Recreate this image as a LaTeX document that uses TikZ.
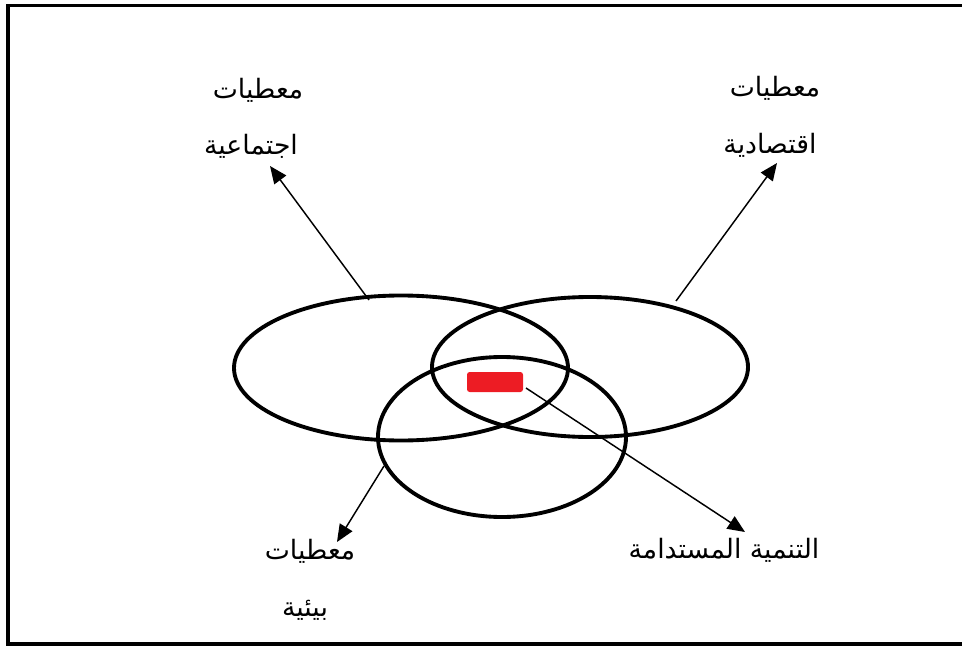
\documentclass[tikz,border=0pt]{standalone}
\usepackage{fontspec}
\newfontfamily\arabicfont[Script=Arabic]{DejaVu Sans}
\TeXXeTstate=1
\usetikzlibrary{shapes.geometric,arrows.meta}
\definecolor{redbox}{HTML}{ED1C24}
\tikzset{
  ring/.style={draw, ellipse, line width=2.9pt, inner sep=0pt},
  lbl/.style={font=\arabicfont\fontsize{20}{22}\selectfont, inner sep=0pt},
  pointer/.style={line width=1.1pt, -{Triangle[length=13pt,width=11pt]}},
}
\begin{document}
\begin{tikzpicture}[x=0.75pt,y=-0.75pt]
\useasboundingbox (0,0) rectangle (962,645);
\draw[line width=2.7pt] (966,5.5) -- (8,5.5) -- (8,644) -- (966,644);
% circles
\node[ring, minimum width=334*0.75pt, minimum height=145*0.75pt] (social) at (401,368) {};
\node[ring, minimum width=316*0.75pt, minimum height=140*0.75pt] (econ) at (590,367) {};
\node[ring, minimum width=248*0.75pt, minimum height=160*0.75pt] (env) at (502,437) {};
\node[fill=redbox, rounded corners=2pt, minimum width=56*0.75pt, minimum height=20*0.75pt, inner sep=0pt] (core) at (495,382) {};
% labels
\node[lbl] (soc1) at (258,90) {\beginR معطيات\endR};
\node[lbl] (soc2) at (251,146) {\beginR اجتماعية\endR};
\node[lbl] (eco1) at (775,88) {\beginR معطيات\endR};
\node[lbl] (eco2) at (770,145) {\beginR اقتصادية\endR};
\node[lbl] (env1) at (310,551) {\beginR معطيات\endR};
\node[lbl] (env2) at (305,610) {\beginR بيئية\endR};
\node[lbl] (sust) at (724,550) {\beginR التنمية المستدامة\endR};
% connector ends
\coordinate (socS) at (369,300);
\coordinate (socT) at (270,166);
\coordinate (ecoS) at (676,301);
\coordinate (ecoT) at (777,163);
\coordinate (envS) at (384,466);
\coordinate (envT) at (337,542);
\coordinate (susS) at (526,388);
\coordinate (susT) at (745,532);
\draw[pointer] (socS) -- (socT);
\draw[pointer] (ecoS) -- (ecoT);
\draw[pointer] (envS) -- (envT);
\draw[pointer] (susS) -- (susT);
\end{tikzpicture}
\end{document}
